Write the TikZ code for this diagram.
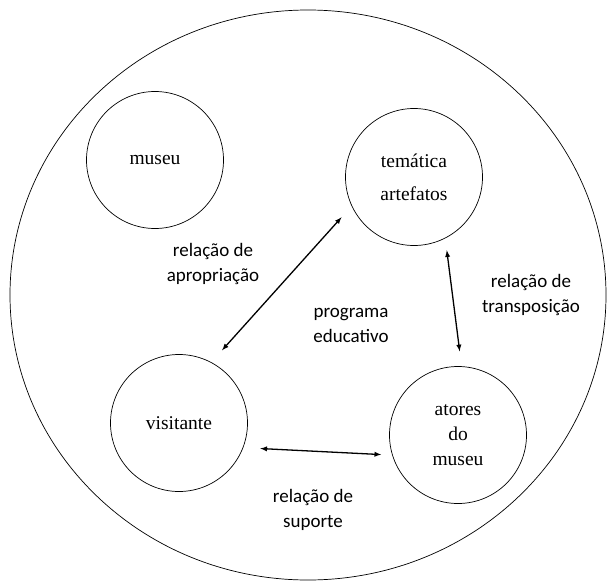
\documentclass[tikz,border=0pt]{standalone}
\usepackage{fontspec}
\setmainfont{Liberation Serif}
\newfontfamily\rotulofont{Carlito}
\usepackage{tikz}
\usetikzlibrary{arrows,shapes,positioning}
\tikzstyle{esfera} = [circle, minimum size=137pt, draw=black, line width=0.7pt, align=center, font=\fontsize{19.5}{25}\selectfont]
\tikzstyle{rotulo} = [align=center, font=\rotulofont\fontsize{19}{25}\selectfont]
\tikzstyle{arrow} = [line width=1.3pt,<->,>=latex,color=black]

\begin{document}
\begin{tikzpicture}[x=1pt,y=-1pt]
\useasboundingbox (0,0) rectangle (608,581);
% Outer circle
\node (mundo) [ellipse, draw=black, line width=0.7pt, minimum width=596pt, minimum height=570pt] at (308,295) {};

% Circles
\node (museu) [esfera] at (155,160) {museu};
\node (tema) [esfera] at (414,177) {temática\\[8pt]artefatos};
\node (vis) [esfera] at (179,423) {visitante};
\node (atores) [esfera] at (458,435) {atores\\do\\museu};

% Arrows
\draw[arrow, shorten <=15pt, shorten >=16pt] (tema.205) -- (vis.62);
\draw[arrow, shorten <=12pt, shorten >=15pt] (tema.297) -- (atores.87);
\draw[arrow, shorten <=17pt, shorten >=11pt] (vis.339) -- (atores.197);

% Labels
\node (aprop) [rotulo] at (213,264) {relação de\\apropriação};
\node (transp) [rotulo] at (531,295) {relação de\\transposição};
\node (prog) [rotulo] at (351,325) {programa\\educativo};
\node (suporte) [rotulo] at (313,510) {relação de\\suporte};
\end{tikzpicture}
\end{document}
